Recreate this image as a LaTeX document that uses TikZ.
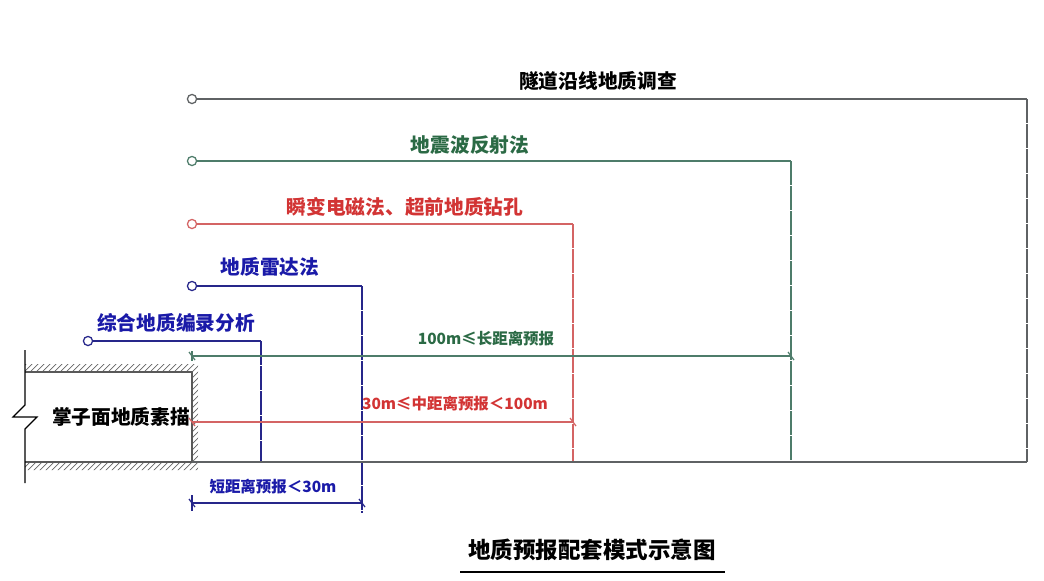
\documentclass[tikz,border=0pt]{standalone}
\usepackage{fontspec}
\usetikzlibrary{positioning}
\newfontfamily\cjk{Noto Sans CJK SC}

\definecolor{surveygray}{HTML}{5F6264}
\definecolor{seisline}{HTML}{4E7C6A}
\definecolor{seistext}{HTML}{2B6A45}
\definecolor{temline}{HTML}{D46464}
\definecolor{temtext}{HTML}{D23434}
\definecolor{radarblue}{HTML}{26268A}
\definecolor{radartext}{HTML}{1A1AA8}

\begin{document}
\begin{tikzpicture}[x=0.025cm, y=-0.025cm,
  startpt/.style = {circle, draw=#1, fill=white, minimum size=6.5pt, inner sep=0pt, line width=0.9pt},
  method/.style = {font=\cjk\bfseries\fontsize{14}{14}\selectfont, inner sep=0pt},
  rangelbl/.style = {font=\cjk\bfseries\fontsize{11}{11}\selectfont, inner sep=0pt},
  reach/.style = {line width=0.8pt},
  drop/.style = {line width=0.8pt, dash pattern=on 17pt off 0.8pt},
  hatch/.style = {line width=0.5pt, gray!80!black},
  dimtick/.style = {line width=0.9pt},
  ]
  \useasboundingbox (0,0) rectangle (1044,580);

  % start points of the methods
  \node[startpt=surveygray] (survey) at (192,99)  {};
  \node[startpt=seisline]   (seis)   at (192,161) {};
  \node[startpt=temline]    (tem)    at (192,224) {};
  \node[startpt=radarblue]  (radar)  at (192,286) {};
  \node[startpt=radarblue]  (log)    at (88,341)  {};

  % method labels
  \node[method, text=black]     (surveyLbl) at (598,81)  {隧道沿线地质调查};
  \node[method, text=seistext]  (seisLbl)   at (470,145) {地震波反射法};
  \node[method, text=temtext]   (temLbl)    at (405,207) {瞬变电磁法、超前地质钻孔};
  \node[method, text=radartext] (radarLbl)  at (270,267) {地质雷达法};
  \node[method, text=radartext] (logLbl)    at (176,323) {综合地质编录分析};

  % reach of each method
  \coordinate (surveyEnd) at (1027,99);
  \coordinate (seisEnd)   at (791,161);
  \coordinate (temEnd)    at (573,224);
  \coordinate (radarEnd)  at (362,286);
  \coordinate (logEnd)    at (261,341);

  \draw[reach, surveygray] (survey) -- (surveyEnd);
  \draw[reach, seisline]   (seis)   -- (seisEnd);
  \draw[reach, temline]    (tem)    -- (temEnd);
  \draw[reach, radarblue]  (radar)  -- (radarEnd);
  \draw[reach, radarblue]  (log)    -- (logEnd);

  \draw[drop, surveygray] (surveyEnd) -- (surveyEnd |- 0,462);
  \draw[drop, seisline]   (seisEnd)   -- (seisEnd |- 0,462);
  \draw[drop, temline]    (temEnd)    -- (temEnd |- 0,462);
  \draw[drop, radarblue]  (radarEnd)  -- (radarEnd |- 0,513);
  \draw[drop, radarblue]  (logEnd)    -- (logEnd |- 0,462);

  % tunnel and face
  \coordinate (faceTop) at (192,372);
  \coordinate (faceBot) at (192,462);
  \begin{scope}
    \clip (25,364) rectangle (198,372) (25,462) rectangle (198,470) (192,372) rectangle (198,462);
    \foreach \i in {-120,-114,...,300}
      \draw[hatch] (\i,480) -- ++(120,-120);
  \end{scope}
  \draw[line width=0.9pt, gray!70!black] (25,372) -- (faceTop) -- (faceBot) -- (25,462);
  \draw[line width=0.9pt, surveygray] (faceBot) -- (surveyEnd |- faceBot);
  \draw[line width=0.8pt, black] (25,350) -- (25,405) -- (13,417) -- (37,417) -- (25,429) -- (25,483);
  \node[method, text=black] (face) at (121,417) {掌子面地质素描};

  % forecast ranges
  \coordinate (longL)  at (192,356);
  \coordinate (longR)  at (791,356);
  \coordinate (midL)   at (192,422);
  \coordinate (midR)   at (573,422);
  \coordinate (shortL) at (192,503);
  \coordinate (shortR) at (362,503);

  \draw[reach, seisline]  (longL)  -- (longR);
  \draw[reach, temline]   (midL)   -- (midR);
  \draw[reach, radarblue] (shortL) -- (shortR);

  \draw[dimtick, seisline] (longL) ++(0,-5) -- ++(0,10);
  \foreach \p/\c in {longL/seisline, longR/seisline, midL/temline, midR/temline, shortL/radarblue, shortR/radarblue}
    \draw[dimtick, \c] (\p) ++(-3,-4) -- ++(6,8);
  \draw[dimtick, radarblue] (shortL) ++(0,-8) -- ++(0,16);

  \node[rangelbl, text=seistext]  (longLbl)  at (486,339) {100m≤长距离预报};
  \node[rangelbl, text=temtext]   (midLbl)   at (455,404) {30m≤中距离预报＜100m};
  \node[rangelbl, text=radartext] (shortLbl) at (273,487) {短距离预报＜30m};

  % title
  \node[font=\cjk\bfseries\fontsize{16}{16}\selectfont, inner sep=0pt] (title) at (592,550) {地质预报配套模式示意图};
  \draw[line width=0.9pt] (460,572) -- (725,572);
\end{tikzpicture}
\end{document}
